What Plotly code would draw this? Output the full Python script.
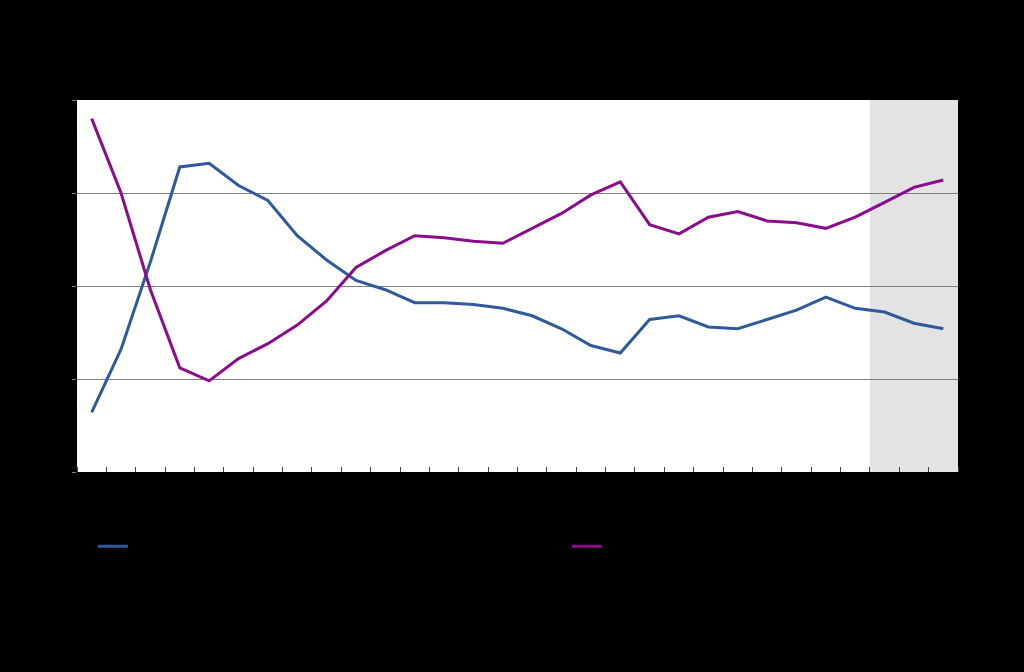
import plotly.graph_objects as go

years = list(range(1990, 2020))
tick_years = list(range(1990, 2020, 2))
tick_labels = ["90", "92", "94", "96", "98", "00", "02", "04", "06", "08",
               "10", "12", "14", "16", "18"]

# tyottomyysaste, % (vasen asteikko)
unemployment = [3.2, 6.6, 11.3, 16.4, 16.6, 15.4, 14.6, 12.7, 11.4, 10.3,
                9.8, 9.1, 9.1, 9.0, 8.8, 8.4, 7.7, 6.8, 6.4, 8.2,
                8.4, 7.8, 7.7, 8.2, 8.7, 9.4, 8.8, 8.6, 8.0, 7.7]
# tyollisyysaste, % (oikea asteikko)
employment = [74.0, 70.0, 64.8, 60.6, 59.9, 61.1, 61.9, 62.9, 64.2, 66.0,
              66.9, 67.7, 67.6, 67.4, 67.3, 68.1, 68.9, 69.9, 70.6, 68.3,
              67.8, 68.7, 69.0, 68.5, 68.4, 68.1, 68.7, 69.5, 70.3, 70.7]

forecast_start = 2016.5
blue = "#2E5A9C"
purple = "#8A0C8A"
txt = "black"
font = "Liberation Sans, Arial, sans-serif"

fig = go.Figure()
fig.add_trace(go.Scatter(x=years, y=unemployment, mode="lines",
                         name="Työttömyysaste (vasen asteikko)", legend="legend",
                         line=dict(color=blue, width=3)))
fig.add_trace(go.Scatter(x=years, y=employment, mode="lines", yaxis="y2",
                         name="Työllisyysaste (oikea asteikko)", legend="legend2",
                         line=dict(color=purple, width=3)))

fig.add_shape(type="rect", xref="x", yref="paper", x0=forecast_start, x1=2019.5,
              y0=0, y1=1, fillcolor="#E3E3E3", line_width=0, layer="below")

leg = dict(orientation="h", y=-0.147, xanchor="left", yanchor="top",
           font=dict(size=20, color=txt), bgcolor="rgba(0,0,0,0)", itemwidth=30)

fig.update_layout(
    width=1024, height=672,
    paper_bgcolor="black", plot_bgcolor="white",
    margin=dict(l=77, r=66, t=100, b=200),
    font=dict(family=font, color=txt, size=18),
    showlegend=True,
    legend=dict(leg, x=0.018),
    legend2=dict(leg, x=0.556),
    xaxis=dict(range=[1989.5, 2019.5], tickvals=tick_years, ticktext=tick_labels,
               ticks="", showgrid=False, zeroline=False, showline=False,
               tickfont=dict(size=18, color=txt),
               minor=dict(tick0=1989.5, dtick=1, ticks="inside", ticklen=5,
                          tickcolor="#404040", showgrid=False)),
    yaxis=dict(range=[0, 20], dtick=5, showgrid=True, gridcolor="#808080",
               zeroline=False, showline=False, ticks="outside", ticklen=4,
               tickcolor="#808080", tickfont=dict(size=18, color=txt)),
    yaxis2=dict(range=[55, 75], dtick=5, overlaying="y", side="right",
                showgrid=False, zeroline=False, showline=False,
                tickfont=dict(size=18, color=txt)),
)

fig.add_annotation(text="Työllisyys", xref="paper", yref="paper", x=-0.005, y=1.18,
                   xanchor="left", yanchor="middle", showarrow=False,
                   font=dict(size=30, color=txt))
fig.add_annotation(text="%", xref="paper", yref="paper", x=-0.005, y=1.075,
                   xanchor="left", yanchor="middle", showarrow=False,
                   font=dict(size=20, color=txt))
fig.add_annotation(text="Työttömyysaste = työttömät / työvoima (15-74 -vuotiaat)<br>"
                        "Työllisyysaste = työlliset / työikäinen väestö (15-64 -vuotiaat)",
                   xref="paper", yref="paper", x=0.0, y=-0.265,
                   xanchor="left", yanchor="top", align="left", showarrow=False,
                   font=dict(size=17, color=txt))
fig.add_annotation(text="Lähde: Tilastokeskus, VM", xref="paper", yref="paper",
                   x=0.0, y=-0.475, xanchor="left", yanchor="middle",
                   showarrow=False, font=dict(size=16, color=txt))
fig.add_annotation(text="VM24170", xref="paper", yref="paper", x=1.0, y=-0.475,
                   xanchor="right", yanchor="middle", showarrow=False,
                   font=dict(size=10, color=txt))

fig.write_html("out.html", config={"displayModeBar": False},
               post_script="document.body.style.margin='0';"
                           "document.body.style.background='black';")
